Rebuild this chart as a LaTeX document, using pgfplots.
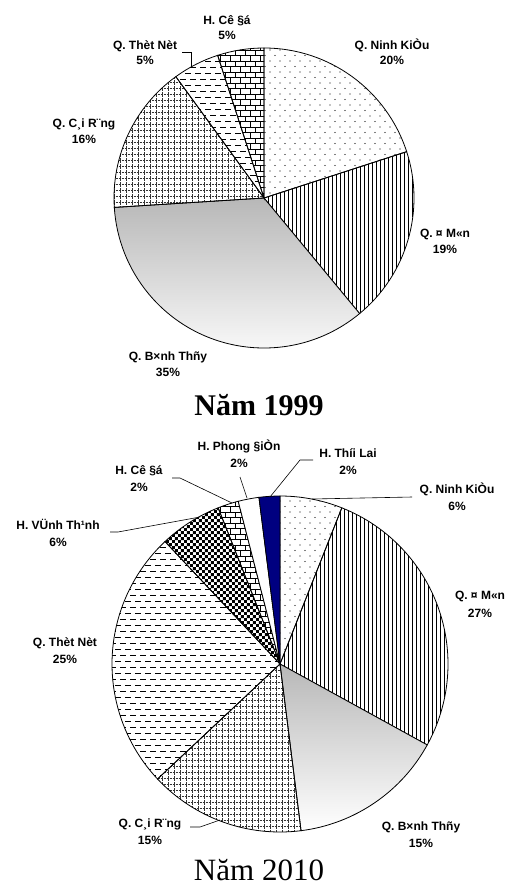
\documentclass[border=0pt]{standalone}
\usepackage{fontspec}
\setmainfont{Liberation Serif}
\newfontfamily\labfont{Liberation Sans}
\usepackage{pgfplots}
\usepackage{pgfplotstable}
\pgfplotsset{compat=1.18}
\usetikzlibrary{patterns}

% ---------- patterns ----------
\pgfdeclarepatternformonly{pdots}{\pgfqpoint{-1pt}{-1pt}}{\pgfqpoint{11pt}{12pt}}{\pgfqpoint{10pt}{11pt}}{%
  \pgfpathcircle{\pgfqpoint{0pt}{0pt}}{0.55pt}%
  \pgfpathcircle{\pgfqpoint{5pt}{5.5pt}}{0.55pt}%
  \pgfusepath{fill}}
\pgfdeclarepatternformonly{pvlines}{\pgfqpoint{-1pt}{-1pt}}{\pgfqpoint{5pt}{5pt}}{\pgfqpoint{4pt}{4pt}}{%
  \pgfsetlinewidth{0.7pt}%
  \pgfpathmoveto{\pgfqpoint{0pt}{-1pt}}\pgfpathlineto{\pgfqpoint{0pt}{5pt}}%
  \pgfusepath{stroke}}
\pgfdeclarepatternformonly{pgrid}{\pgfqpoint{-1pt}{-1pt}}{\pgfqpoint{7pt}{7pt}}{\pgfqpoint{6pt}{6pt}}{%
  \pgfsetlinewidth{0.4pt}%
  \pgfsetdash{{0.6pt}{0.9pt}}{0pt}%
  \pgfpathmoveto{\pgfqpoint{0pt}{0pt}}\pgfpathlineto{\pgfqpoint{6pt}{0pt}}%
  \pgfpathmoveto{\pgfqpoint{0pt}{0pt}}\pgfpathlineto{\pgfqpoint{0pt}{6pt}}%
  \pgfusepath{stroke}}
\pgfdeclarepatternformonly{pdash}{\pgfqpoint{-1pt}{-1pt}}{\pgfqpoint{11pt}{13pt}}{\pgfqpoint{10pt}{12pt}}{%
  \pgfsetlinewidth{0.9pt}%
  \pgfpathmoveto{\pgfqpoint{0pt}{3pt}}\pgfpathlineto{\pgfqpoint{6pt}{3pt}}%
  \pgfpathmoveto{\pgfqpoint{5pt}{9pt}}\pgfpathlineto{\pgfqpoint{10pt}{9pt}}%
  \pgfpathmoveto{\pgfqpoint{0pt}{9pt}}\pgfpathlineto{\pgfqpoint{1pt}{9pt}}%
  \pgfusepath{stroke}}
\pgfdeclarepatternformonly{pbricks}{\pgfqpoint{-1pt}{-1pt}}{\pgfqpoint{11pt}{12pt}}{\pgfqpoint{10pt}{11pt}}{%
  \pgfsetlinewidth{0.8pt}%
  \pgfpathmoveto{\pgfqpoint{0pt}{0pt}}\pgfpathlineto{\pgfqpoint{10pt}{0pt}}%
  \pgfpathmoveto{\pgfqpoint{0pt}{5.5pt}}\pgfpathlineto{\pgfqpoint{10pt}{5.5pt}}%
  \pgfpathmoveto{\pgfqpoint{0pt}{0pt}}\pgfpathlineto{\pgfqpoint{0pt}{5.5pt}}%
  \pgfpathmoveto{\pgfqpoint{5pt}{5.5pt}}\pgfpathlineto{\pgfqpoint{5pt}{11pt}}%
  \pgfusepath{stroke}}
\pgfdeclarepatternformonly{pchecker}{\pgfqpoint{0pt}{0pt}}{\pgfqpoint{6.4pt}{6.4pt}}{\pgfqpoint{6.4pt}{6.4pt}}{%
  \pgfpathrectangle{\pgfqpoint{0pt}{0pt}}{\pgfqpoint{3.2pt}{3.2pt}}%
  \pgfpathrectangle{\pgfqpoint{3.2pt}{3.2pt}}{\pgfqpoint{3.2pt}{3.2pt}}%
  \pgfusepath{fill}}

\definecolor{navyblue}{RGB}{0,0,128}
\tikzset{
  edge/.style={draw=black, line width=0.8pt},
  Asl0/.style={edge, pattern=pdots},
  Asl1/.style={edge, pattern=pvlines},
  Asl2/.style={edge, top color=black!28, bottom color=white},
  Asl3/.style={edge, pattern=pgrid, pattern color=black!80},
  Asl4/.style={edge, pattern=pdash},
  Asl5/.style={edge, pattern=pbricks},
  Bsl0/.style={edge, pattern=pdots},
  Bsl1/.style={edge, pattern=pvlines},
  Bsl2/.style={edge, top color=black!28, bottom color=white},
  Bsl3/.style={edge, pattern=pgrid, pattern color=black!80},
  Bsl4/.style={edge, pattern=pdash},
  Bsl5/.style={edge, pattern=pchecker},
  Bsl6/.style={edge, pattern=pbricks},
  Bsl7/.style={edge, fill=white},
  Bsl8/.style={edge, fill=navyblue},
  leader/.style={draw=black, line width=0.6pt},
}

% ---------- data (percent shares, clockwise from 12 o'clock) ----------
\pgfplotstableread{
name      pct
NinhKieu  20
OMon      19
BinhThuy  35
CaiRang   16
ThotNot   5
CoDo      5
}\tableA
\pgfplotstableread{
name       pct
NinhKieu   6
OMon       27
BinhThuy   15
CaiRang    15
ThotNot    25
VinhThanh  6
CoDo       2
PhongDien  2
ThoiLai    2
}\tableB

\newcommand\pieangles[2]{% #1 table, #2 prefix
  \pgfplotstablegetrowsof{#1}%
  \pgfmathtruncatemacro\nrows{\pgfplotsretval-1}%
  \xdef\cumang{90}%
  \foreach \i in {0,...,\nrows}{%
    \pgfplotstablegetelem{\i}{pct}\of{#1}%
    \pgfmathsetmacro\endang{\cumang-3.6*\pgfplotsretval}%
    \expandafter\xdef\csname #2s\i\endcsname{\cumang}%
    \expandafter\xdef\csname #2e\i\endcsname{\endang}%
    \xdef\cumang{\endang}%
  }%
}
\pieangles{\tableA}{A}
\pieangles{\tableB}{B}

\newcommand\drawpie[6]{% prefix, last index, cx, cy, rx, ry
  \pgfplotsinvokeforeach{0,...,#2}{%
    \edef\tmp{\noexpand\draw[#1sl##1] (axis cs:#3,#4) -- (axis cs:{#3+#5*cos(\csname #1s##1\endcsname)},{#4-#6*sin(\csname #1s##1\endcsname)}) arc[start angle=\csname #1s##1\endcsname, end angle=\csname #1e##1\endcsname, x radius=#5pt, y radius=#6pt] -- cycle;}%
    \tmp
  }%
}
\newcommand\lab[5]{% x, baseline1, baseline2, line1, line2
  \node[anchor=base, inner sep=0pt, font=\labfont\fontsize{12}{14}\selectfont\bfseries] at (axis cs:#1,#2) {#4};
  \node[anchor=base, inner sep=0pt, font=\labfont\fontsize{12}{14}\selectfont\bfseries] at (axis cs:#1,#3) {#5};
}

\begin{document}
\begin{tikzpicture}
\begin{axis}[at={(0pt,0pt)}, anchor=south west, x=1pt, y=1pt,
  xmin=0, xmax=513, ymin=0, ymax=886, y dir=reverse,
  hide axis, clip=false, scale only axis]

\drawpie{A}{5}{264}{198}{150}{150}
\drawpie{B}{8}{280}{664}{168}{168}

% 1999 labels
\lab{227}{24}{39}{H. Cê §á}{5\%}
\lab{145}{49}{64}{Q. Thèt Nèt}{5\%}
\lab{392}{49}{64}{Q. Ninh KiÒu}{20\%}
\lab{445}{237}{253}{Q. ¤ M«n}{19\%}
\lab{84}{127}{143}{Q. C¸i R¨ng}{16\%}
\lab{168}{360}{376}{Q. B×nh Thñy}{35\%}
\draw[leader] (axis cs:182,52) -- (axis cs:191,52) -- (axis cs:191,67);

\node[anchor=base, inner sep=0pt, font=\fontsize{30}{31}\selectfont\bfseries] at (axis cs:259,415) {Năm 1999};

% 2010 labels
\lab{239}{450}{467}{H. Phong §iÒn}{2\%}
\lab{348}{457}{474}{H. Thíi Lai}{2\%}
\lab{139}{474}{491}{H. Cê §á}{2\%}
\lab{58}{529}{546}{H. VÜnh Th¹nh}{6\%}
\lab{457}{493}{510}{Q. Ninh KiÒu}{6\%}
\lab{480}{599}{617}{Q. ¤ M«n}{27\%}
\lab{65}{646}{663}{Q. Thèt Nèt}{25\%}
\lab{150}{827}{844}{Q. C¸i R¨ng}{15\%}
\lab{421}{830}{847}{Q. B×nh Thñy}{15\%}

\draw[leader] (axis cs:240,477) -- (axis cs:247,498);
\draw[leader] (axis cs:313,460) -- (axis cs:300,460) -- (axis cs:270,497);
\draw[leader] (axis cs:172,478) -- (axis cs:180,478) -- (axis cs:232,503);
\draw[leader] (axis cs:110,532) -- (axis cs:118,532) -- (axis cs:200,517);
\draw[leader] (axis cs:412,497) -- (axis cs:312,499);
\draw[leader] (axis cs:190,827) -- (axis cs:200,827) -- (axis cs:220,820);

\node[anchor=base, inner sep=0pt, font=\fontsize{31}{32}\selectfont] at (axis cs:259,880) {Năm 2010};
\end{axis}
\pgfresetboundingbox
\path[use as bounding box] (0pt,0pt) rectangle (513pt,886pt);
\end{tikzpicture}
\end{document}
